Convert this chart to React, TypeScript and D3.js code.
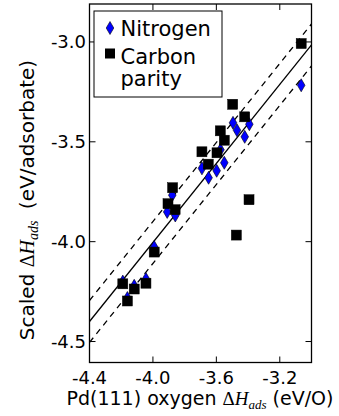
import React from 'react';
import * as d3 from 'd3';

const nitrogenX = [-3.065, -3.495, -3.47, -3.392, -3.421, -3.574, -3.55, -3.598, -3.649, -3.691, -3.878, -3.91, -3.859, -3.992, -4.19, -4.118, -4.044, -4.161];
const nitrogenY = [-3.217, -3.405, -3.442, -3.412, -3.475, -3.54, -3.605, -3.645, -3.68, -3.633, -3.767, -3.851, -3.869, -4.027, -4.2, -4.221, -4.187, -4.282];
const carbonX = [-3.065, -3.497, -3.421, -3.575, -3.55, -3.691, -3.596, -3.651, -3.876, -3.905, -3.86, -3.394, -3.474, -3.992, -4.19, -4.118, -4.044, -4.161];
const carbonY = [-3.008, -3.312, -3.375, -3.445, -3.492, -3.55, -3.555, -3.612, -3.73, -3.81, -3.84, -3.79, -3.967, -4.052, -4.211, -4.237, -4.208, -4.297];
const xTicks = [-4.4, -4.0, -3.6, -3.2];
const yTicks = [-3.0, -3.5, -4.0, -4.5];
const fitSlope = 0.989;
const fitIntercept = -0.048;
const bandOffset = 0.105;
const legendLabels = ['Nitrogen', 'Carbon', 'parity'];

const W = 339, H = 416;
const L = 89.5, R = 311.5, T = 4, B = 362.5;

export default function App() {
  const x = d3.scaleLinear().domain([-4.4, -3.0]).range([L, R]);
  const y = d3.scaleLinear().domain([-4.605, -2.81]).range([B, T]);
  const xs = x.domain();
  const line = d3.line<number>().x(v => x(v)).y(v => y(v));
  const fitLine = (off: number) =>
    d3.line<number>().x(v => x(v)).y(v => y(fitSlope * v + fitIntercept + off))(xs) || '';
  const diamond = (cx: number, cy: number) => `M${cx},${cy - 6.5}L${cx + 3.8},${cy}L${cx},${cy + 6.5}L${cx - 3.8},${cy}Z`;
  const tick = 6;
  void line;
  return (
    <svg width={W} height={H} style={{ position: 'absolute', left: 0, top: 0, background: '#fff' }}
      fontFamily="DejaVu Sans">
      <defs>
        <clipPath id="plotclip"><rect x={L} y={T} width={R - L} height={B - T} /></clipPath>
      </defs>
      <rect x={0} y={0} width={W} height={H} fill="#fff" />
      <g clipPath="url(#plotclip)">
        <path d={fitLine(0)} stroke="#000" strokeWidth={1.3} fill="none" />
        <path d={fitLine(bandOffset)} stroke="#000" strokeWidth={1.3} fill="none" strokeDasharray="6,5" />
        <path d={fitLine(-bandOffset)} stroke="#000" strokeWidth={1.3} fill="none" strokeDasharray="6,5" />
        {nitrogenX.map((v, i) => (
          <path key={'n' + i} d={diamond(x(v), y(nitrogenY[i]))} fill="#0000ff" stroke="#000" strokeWidth={0.6} />
        ))}
        {carbonX.map((v, i) => (
          <rect key={'c' + i} x={x(v) - 5} y={y(carbonY[i]) - 5} width={10} height={10} fill="#000" stroke="#000" strokeWidth={0.5} />
        ))}
      </g>
      <rect x={L} y={T} width={R - L} height={B - T} fill="none" stroke="#000" strokeWidth={1.3} />
      {xTicks.map(t => (
        <g key={'x' + t}>
          <line x1={x(t)} x2={x(t)} y1={B} y2={B - tick} stroke="#000" strokeWidth={1} />
          <line x1={x(t)} x2={x(t)} y1={T} y2={T + tick} stroke="#000" strokeWidth={1} />
          <text x={x(t)} y={384} textAnchor="middle" fontSize={18} fill="#000">{t.toFixed(1)}</text>
        </g>
      ))}
      {yTicks.map(t => (
        <g key={'y' + t}>
          <line x1={L} x2={L + tick} y1={y(t)} y2={y(t)} stroke="#000" strokeWidth={1} />
          <line x1={R} x2={R - tick} y1={y(t)} y2={y(t)} stroke="#000" strokeWidth={1} />
          <text x={86} y={y(t) + 6.5} textAnchor="end" fontSize={18} fill="#000">{t.toFixed(1)}</text>
        </g>
      ))}
      <text x={200} y={405} textAnchor="middle" fontSize={19} fill="#000">
        {'Pd(111) oxygen '}
        <tspan fontFamily="Liberation Serif">Δ</tspan>
        <tspan fontFamily="Liberation Serif" fontStyle="italic">H</tspan>
        <tspan fontFamily="Liberation Serif" fontStyle="italic" fontSize={13} dy={4}>ads</tspan>
        <tspan dy={-4}>{' (eV/O)'}</tspan>
      </text>
      <text transform="translate(34,200) rotate(-90)" textAnchor="middle" fontSize={20} fill="#000">
        {'Scaled '}
        <tspan fontFamily="Liberation Serif">Δ</tspan>
        <tspan fontFamily="Liberation Serif" fontStyle="italic">H</tspan>
        <tspan fontFamily="Liberation Serif" fontStyle="italic" fontSize={14} dy={4}>ads</tspan>
        <tspan dy={-4} dx={5}>{' (eV/adsorbate)'}</tspan>
      </text>
      <rect x={94} y={11} width={128} height={86} fill="#fff" stroke="#000" strokeWidth={1} />
      <path d={diamond(110, 28)} fill="#0000ff" stroke="#000" strokeWidth={0.6} />
      <rect x={105} y={48.5} width={10} height={10} fill="#000" />
      <text x={120.5} y={35.5} fontSize={21} fill="#000">{legendLabels[0]}</text>
      <text x={120.5} y={63.5} fontSize={21} fill="#000">{legendLabels[1]}</text>
      <text x={120.5} y={85.5} fontSize={21} fill="#000">{legendLabels[2]}</text>
    </svg>
  );
}
